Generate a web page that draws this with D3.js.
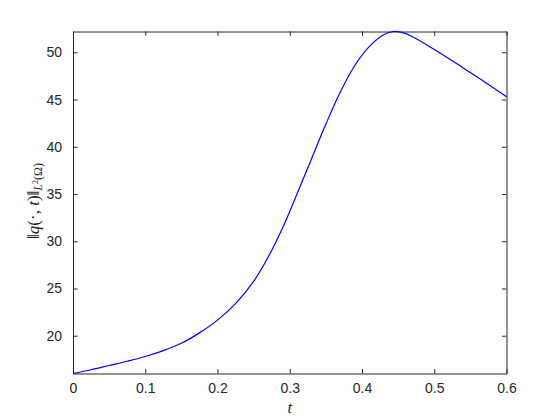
<!DOCTYPE html>
<html lang="en">
  <head>
    <meta charset="UTF-8" />
    <title>Norm of q over time</title>
    <style>
      body { margin: 0; background: #fff; }
      .axis text { font-family: "Liberation Sans", Arial, sans-serif; font-size: 14px; fill: #262626; }
      .axis path, .axis line { stroke: #262626; }
      .curve { fill: none; stroke: #0000ff; stroke-width: 1.2px; }
    </style>
    <script src="https://cdn.jsdelivr.net/npm/d3@7"></script>
  </head>
  <body>
    <script>
    // values
    var tValues = [0, 0.025, 0.05, 0.075, 0.1, 0.125, 0.15, 0.175, 0.2, 0.225, 0.25, 0.27, 0.29, 0.31, 0.33, 0.35, 0.37, 0.39, 0.41, 0.43, 0.443, 0.455, 0.47, 0.5, 0.525, 0.55, 0.575, 0.6];
    var normValues = [16.0, 16.4, 16.85, 17.3, 17.8, 18.42, 19.2, 20.3, 21.65, 23.4, 25.75, 28.3, 31.4, 35.0, 38.7, 42.4, 45.8, 48.6, 50.6, 51.85, 52.2, 52.1, 51.65, 50.3, 49.1, 47.85, 46.6, 45.3];
    var xTicks = [0, 0.1, 0.2, 0.3, 0.4, 0.5, 0.6];
    var yTicks = [20, 25, 30, 35, 40, 45, 50];

    var data = tValues.map(function(t, i) { return { t: t, v: normValues[i] }; });

    var W = 560, H = 420;
    var margin = { top: 31.5, right: 53.5, bottom: 46.5, left: 73 };
    var serif = "'Liberation Serif', 'Times New Roman', serif";

    var svg = d3.select("body").append("svg")
      .attr("width", W)
      .attr("height", H);

    var xScale = d3.scaleLinear()
      .domain([0, 0.6])
      .range([margin.left, W - margin.right]);
    var yScale = d3.scaleLinear()
      .domain(d3.extent(normValues))
      .range([H - margin.bottom, margin.top]);

    var tick = 4.5;
    // bottom and left axes with labels, inward ticks
    svg.append("g")
      .attr("class", "axis")
      .attr("transform", "translate(0," + (H - margin.bottom) + ")")
      .call(d3.axisBottom(xScale).tickValues(xTicks).tickFormat(d3.format("")).tickSizeInner(-tick).tickSizeOuter(0).tickPadding(10));
    svg.append("g")
      .attr("class", "axis")
      .attr("transform", "translate(" + margin.left + ",0)")
      .call(d3.axisLeft(yScale).tickValues(yTicks).tickSizeInner(-tick).tickSizeOuter(0).tickPadding(11));
    // top and right: ticks only
    svg.append("g")
      .attr("class", "axis")
      .attr("transform", "translate(0," + margin.top + ")")
      .call(d3.axisTop(xScale).tickValues(xTicks).tickFormat("").tickSizeInner(-tick).tickSizeOuter(0));
    svg.append("g")
      .attr("class", "axis")
      .attr("transform", "translate(" + (W - margin.right) + ",0)")
      .call(d3.axisRight(yScale).tickValues(yTicks).tickFormat("").tickSizeInner(-tick).tickSizeOuter(0));

    var line = d3.line()
      .x(function(d) { return xScale(d.t); })
      .y(function(d) { return yScale(d.v); })
      .curve(d3.curveCatmullRom.alpha(0.5));
    svg.append("path")
      .datum(data)
      .attr("class", "curve")
      .attr("d", line);

    // x label
    svg.append("text")
      .attr("x", (margin.left + W - margin.right) / 2)
      .attr("y", 413)
      .attr("text-anchor", "middle")
      .style("font-family", serif)
      .style("font-size", "17px")
      .style("font-style", "italic")
      .style("fill", "#262626")
      .text("t");

    // y label
    var yl = svg.append("text")
      .attr("text-anchor", "middle")
      .attr("transform", "translate(39," + 201 + ")rotate(-90)")
      .style("font-family", serif)
      .style("font-size", "17px")
      .style("fill", "#262626");
    yl.append("tspan").text("\u2016");
    yl.append("tspan").style("font-style", "italic").text("q");
    yl.append("tspan").text("(\u00b7, ");
    yl.append("tspan").style("font-style", "italic").text("t");
    yl.append("tspan").text(")\u2016");
    yl.append("tspan").attr("dy", 3).style("font-size", "12px").style("font-style", "italic").text("L");
    yl.append("tspan").attr("dy", -4).style("font-size", "8px").text("2");
    yl.append("tspan").attr("dy", 4).style("font-size", "12px").text("(\u03a9)");
    </script>
  </body>
</html>
